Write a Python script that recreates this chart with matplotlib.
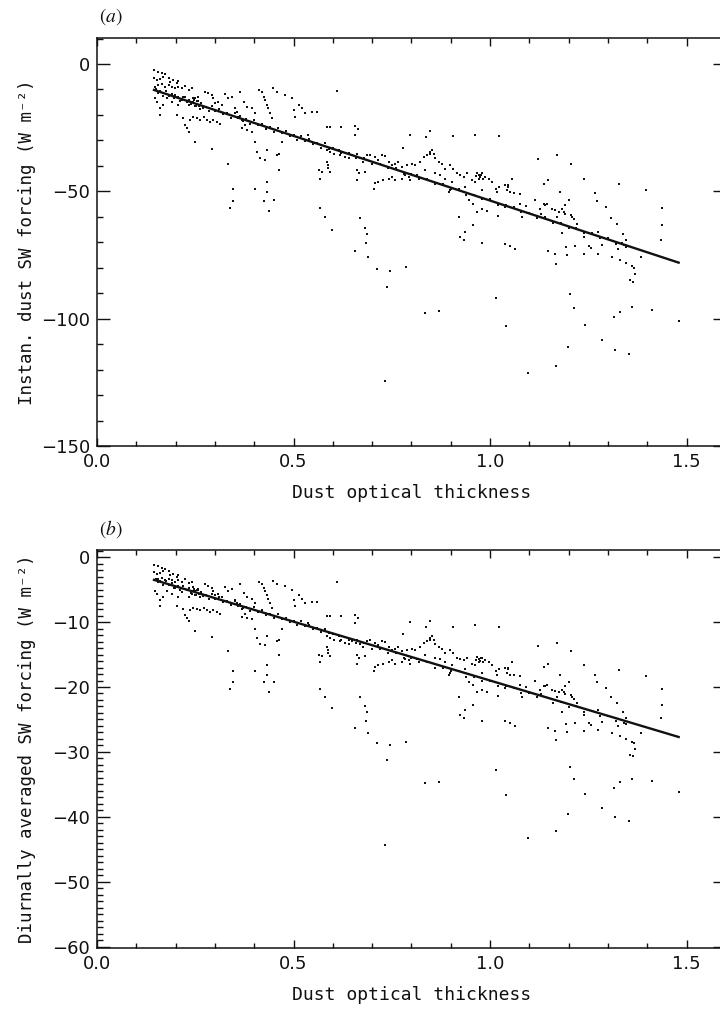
import numpy as np
import matplotlib.pyplot as plt
from matplotlib.ticker import MultipleLocator

plt.rcParams['font.family'] = 'DejaVu Sans'
plt.rcParams['mathtext.fontset'] = 'stix'

# dust optical thickness / instantaneous forcing / diurnally averaged forcing
# grouped by region of the scatter

# upper edge of the cloud, tau 0.15-0.25
tau_top = [0.146, 0.156, 0.165, 0.173, 0.146, 0.152, 0.160, 0.169, 0.182, 0.186,
           0.194, 0.203, 0.207, 0.148, 0.156, 0.165, 0.173, 0.182, 0.190, 0.199,
           0.207, 0.216, 0.224, 0.233, 0.241]
inst_top = [-2.4, -3.0, -3.7, -4.1, -5.6, -6.3, -5.9, -5.0, -5.4, -6.9,
            -6.3, -7.6, -6.7, -8.9, -8.3, -8.0, -8.9, -8.3, -8.9, -9.6,
            -8.9, -9.6, -8.5, -10.2, -9.6]
diur_top = [-1.2, -1.4, -1.6, -1.8, -2.3, -2.6, -2.4, -2.1, -2.2, -2.8,
            -2.6, -3.0, -2.7, -3.5, -3.3, -3.2, -3.5, -3.3, -3.5, -3.8,
            -3.5, -3.8, -3.4, -4.0, -3.8]

# below the line, tau 0.15-0.31
tau_low = [0.148, 0.152, 0.160, 0.169, 0.177, 0.190, 0.199, 0.207, 0.216, 0.224,
           0.233, 0.241, 0.250, 0.258, 0.160, 0.203, 0.220, 0.224, 0.228, 0.233,
           0.250, 0.237, 0.245, 0.254, 0.262, 0.271, 0.279, 0.288, 0.296, 0.305,
           0.313]
inst_low = [-13.5, -14.8, -17.4, -16.1, -13.5, -14.8, -12.2, -16.1, -14.2, -12.9,
            -16.1, -14.8, -13.5, -12.9, -20.1, -20.1, -21.4, -24.0, -25.3, -26.6,
            -30.6, -22.0, -20.7, -21.4, -22.0, -20.7, -22.0, -22.7, -22.0, -22.7,
            -23.4]
diur_low = [-5.2, -5.6, -6.6, -6.1, -5.2, -5.6, -4.7, -6.1, -5.4, -4.9,
            -6.1, -5.6, -5.2, -4.9, -7.5, -7.5, -8.0, -8.9, -9.4, -9.9,
            -11.3, -8.2, -7.8, -8.0, -8.2, -7.8, -8.2, -8.5, -8.2, -8.5,
            -8.7]

# tau 0.24-0.37, above line + small cluster
tau_mid = [0.275, 0.283, 0.292, 0.296, 0.300, 0.309, 0.317, 0.326, 0.334, 0.343,
           0.351, 0.356, 0.364, 0.292, 0.334, 0.248, 0.252, 0.258, 0.262, 0.244]
inst_mid = [-10.9, -11.5, -12.2, -13.5, -15.5, -14.8, -16.1, -11.9, -13.5, -12.9,
            -17.4, -18.8, -10.9, -33.2, -39.1, -14.0, -16.5, -14.5, -17.8, -13.2]
diur_mid = [-4.2, -4.4, -4.7, -5.2, -5.9, -5.6, -6.1, -4.6, -5.2, -4.9,
            -6.6, -7.1, -4.2, -12.3, -14.4, -4.9, -5.8, -5.1, -6.2, -4.6]

# dense band along the fit, tau 0.15-0.59
tau_band1 = [0.150, 0.155, 0.160, 0.168, 0.175, 0.182, 0.190, 0.197, 0.205, 0.212,
             0.220, 0.228, 0.235, 0.240, 0.245, 0.250, 0.255, 0.260, 0.265, 0.270,
             0.278, 0.285, 0.292, 0.300, 0.310, 0.320, 0.330, 0.340, 0.350, 0.358,
             0.365, 0.372, 0.380, 0.390, 0.400, 0.410, 0.420, 0.430, 0.440, 0.450,
             0.460, 0.470, 0.480, 0.490, 0.500, 0.510, 0.520, 0.530, 0.540, 0.550,
             0.560, 0.570, 0.580, 0.590]
inst_band1 = [-9.7, -11.4, -10.7, -12.4, -10.5, -12.5, -11.7, -13.5, -13.0, -14.6,
              -12.8, -14.8, -14.0, -15.7, -15.0, -16.5, -14.6, -16.4, -15.5, -17.3,
              -16.7, -18.3, -16.5, -18.5, -17.8, -19.8, -19.3, -21.1, -19.4, -21.4,
              -20.6, -22.4, -21.8, -23.7, -22.0, -24.1, -23.4, -25.4, -24.9, -26.7,
              -25.0, -27.1, -26.4, -28.4, -27.9, -29.7, -28.1, -30.2, -29.5, -31.5,
              -31.0, -32.8, -31.1, -33.2]
diur_band1 = [-3.3, -3.9, -3.7, -4.3, -3.6, -4.3, -4.0, -4.7, -4.5, -5.1,
              -4.4, -5.1, -4.8, -5.5, -5.2, -5.8, -5.1, -5.7, -5.4, -6.0,
              -5.8, -6.4, -5.7, -6.5, -6.2, -6.9, -6.7, -7.4, -6.8, -7.5,
              -7.2, -7.9, -7.7, -8.3, -7.7, -8.4, -8.2, -8.9, -8.7, -9.4,
              -8.8, -9.5, -9.3, -10.0, -9.8, -10.5, -9.9, -10.6, -10.4, -11.1,
              -10.9, -11.6, -11.0, -11.7]

# tau 0.34-0.60 scatter (streaks and outliers)
tau_b = [0.373, 0.381, 0.394, 0.402, 0.360, 0.368, 0.377, 0.368, 0.381, 0.394,
         0.411, 0.419, 0.424, 0.428, 0.432, 0.436, 0.441, 0.445, 0.449, 0.458,
         0.402, 0.407, 0.415, 0.428, 0.432, 0.458, 0.462, 0.462, 0.470, 0.479,
         0.496, 0.500, 0.504, 0.513, 0.521, 0.530, 0.547, 0.559, 0.538, 0.585,
         0.347, 0.402, 0.432, 0.432, 0.564, 0.572, 0.585, 0.589, 0.568, 0.347,
         0.339, 0.424, 0.451, 0.438, 0.568, 0.579, 0.598]
inst_b = [-14.8, -16.8, -17.4, -19.4, -20.7, -22.0, -24.0, -25.3, -26.0, -26.6,
          -10.2, -10.9, -12.9, -14.2, -16.1, -17.4, -19.4, -21.4, -9.6, -10.9,
          -30.6, -34.5, -37.1, -37.8, -33.9, -35.8, -35.2, -41.7, -30.6, -12.2,
          -13.5, -18.1, -20.7, -16.1, -17.4, -19.4, -18.8, -18.8, -27.9, -24.7,
          -48.9, -48.9, -46.3, -50.3, -41.7, -42.4, -38.4, -41.0, -45.0, -53.8,
          -56.6, -53.8, -53.5, -57.9, -56.6, -60.1, -65.0]
diur_b = [-5.5, -6.2, -6.4, -7.1, -7.5, -8.0, -8.7, -9.2, -9.4, -9.6,
          -3.8, -4.1, -4.8, -5.2, -5.9, -6.4, -7.1, -7.8, -3.6, -4.1,
          -11.1, -12.4, -13.4, -13.6, -12.2, -12.9, -12.7, -15.0, -11.1, -4.5,
          -5.0, -6.6, -7.5, -5.9, -6.4, -7.1, -6.9, -6.9, -10.1, -9.0,
          -17.6, -17.6, -16.6, -18.1, -15.0, -15.3, -13.8, -14.8, -16.2, -19.3,
          -20.3, -19.3, -19.2, -20.8, -20.3, -21.5, -23.3]

# sparse points well above the line, tau 0.59-1.03
tau_high = [0.610, 0.593, 0.621, 0.657, 0.664, 0.657, 0.797, 0.838, 0.848, 0.906,
            0.963, 1.024, 0.778]
inst_high = [-10.5, -24.7, -24.7, -24.4, -25.6, -27.9, -27.7, -28.6, -26.2, -28.2,
             -27.9, -28.2, -32.9]
diur_high = [-3.9, -9.0, -9.0, -8.9, -9.3, -10.1, -10.0, -10.8, -9.9, -10.7,
             -10.5, -10.7, -11.9]

# band riding above the line, tau 0.58-1.04, with the blob near 0.97
tau_upper = [0.585, 0.593, 0.602, 0.615, 0.619, 0.632, 0.640, 0.649, 0.661, 0.670,
             0.678, 0.687, 0.695, 0.708, 0.716, 0.725, 0.733, 0.742, 0.750, 0.759,
             0.767, 0.776, 0.789, 0.801, 0.810, 0.823, 0.831, 0.840, 0.848, 0.857,
             0.861, 0.869, 0.878, 0.886, 0.899, 0.907, 0.916, 0.924, 0.933, 0.941,
             0.954, 0.963, 0.971, 0.980, 0.988, 0.997, 1.005, 1.014, 1.022, 1.039,
             0.968, 0.975, 0.972, 0.978, 0.965, 0.982, 0.848, 0.852]
inst_upper = [-33.9, -34.5, -35.2, -33.6, -35.8, -36.5, -37.1, -35.8, -35.4, -37.1,
              -38.4, -35.8, -35.6, -36.5, -37.8, -35.8, -36.1, -38.4, -39.8, -39.1,
              -38.4, -40.4, -39.8, -39.1, -39.8, -38.4, -36.5, -35.8, -35.4, -35.2,
              -37.1, -38.4, -39.1, -41.1, -39.8, -41.1, -43.0, -43.7, -44.3, -43.0,
              -45.7, -46.3, -43.7, -43.0, -44.3, -45.0, -46.3, -48.9, -48.3, -47.6,
              -42.8, -44.5, -45.2, -43.5, -44.0, -45.0, -34.5, -33.8]
diur_upper = [-12.2, -12.4, -12.7, -12.1, -12.9, -13.2, -13.4, -12.9, -12.8, -13.4,
              -13.8, -12.9, -12.8, -13.2, -13.6, -12.9, -13.0, -13.8, -14.3, -14.1,
              -13.8, -14.5, -14.3, -14.1, -14.3, -13.8, -13.2, -12.9, -12.8, -12.7,
              -13.4, -13.8, -14.1, -14.8, -14.3, -14.8, -15.5, -15.7, -15.9, -15.5,
              -16.4, -16.6, -15.7, -15.5, -15.9, -16.2, -16.6, -17.6, -17.3, -17.1,
              -15.4, -16.0, -16.2, -15.6, -15.8, -16.2, -12.4, -12.2]

# arc below the line, tau 0.59-1.05
tau_under = [0.589, 0.593, 0.661, 0.666, 0.661, 0.683, 0.708, 0.716, 0.729, 0.742,
             0.750, 0.759, 0.776, 0.784, 0.793, 0.797, 0.704, 0.814, 0.835, 0.861,
             0.873, 0.886, 0.903, 0.899, 0.937, 0.980, 1.018, 1.047]
inst_under = [-39.8, -42.4, -41.7, -43.0, -45.7, -42.4, -46.9, -46.3, -45.7, -45.0,
              -44.3, -45.7, -45.0, -43.7, -44.3, -45.7, -48.9, -43.7, -41.7, -43.0,
              -43.7, -45.0, -46.3, -49.6, -48.3, -49.6, -50.3, -48.3]
diur_under = [-14.3, -15.2, -15.0, -15.5, -16.4, -15.2, -16.9, -16.6, -16.4, -16.2,
              -15.9, -16.4, -16.2, -15.7, -15.9, -16.4, -17.6, -15.7, -15.0, -15.5,
              -15.7, -16.2, -16.6, -17.8, -17.3, -17.8, -18.1, -17.3]

# along the line, tau 0.60-1.04
tau_band2 = [0.600, 0.620, 0.640, 0.660, 0.680, 0.700, 0.720, 0.740, 0.760, 0.780,
             0.800, 0.820, 0.840, 0.860, 0.880, 0.900, 0.920, 0.940, 0.960, 0.980,
             1.000, 1.020, 1.040]
inst_band2 = [-32.8, -35.1, -35.1, -36.8, -36.9, -39.2, -39.2, -40.9, -40.9, -43.3,
              -43.3, -45.0, -45.0, -47.3, -47.3, -49.1, -49.1, -51.4, -51.4, -53.1,
              -53.1, -55.4, -55.2]
diur_band2 = [-11.8, -12.7, -12.7, -13.3, -13.3, -14.1, -14.1, -14.7, -14.7, -15.6,
              -15.6, -16.2, -16.2, -17.0, -17.0, -17.6, -17.6, -18.4, -18.4, -19.1,
              -19.1, -19.9, -19.8]

# upper scatter, tau 1.04-1.40
tau_right_hi = [1.121, 1.171, 1.207, 1.056, 1.046, 1.137, 1.148, 1.239, 1.328, 1.396,
                1.043, 1.052, 1.060, 1.077, 1.177, 1.268]
inst_right_hi = [-37.4, -35.8, -39.1, -45.0, -47.6, -47.0, -45.7, -45.0, -47.1, -49.6,
                 -49.6, -50.3, -50.5, -50.9, -50.3, -50.6]
diur_right_hi = [-13.7, -13.2, -14.4, -16.2, -17.1, -16.9, -16.4, -16.6, -17.4, -18.3,
                 -17.8, -18.1, -18.1, -18.3, -18.1, -18.2]

# right part of the cloud and its outliers, tau 1.04-1.48
tau_right = [1.039, 1.077, 1.092, 1.081, 1.115, 1.128, 1.131, 1.137, 1.141, 1.145,
             1.158, 1.166, 1.171, 1.175, 1.183, 1.188, 1.192, 1.200, 1.190, 1.205,
             1.213, 1.221, 1.209, 1.182, 1.148, 1.166, 1.168, 1.196, 1.194, 1.216,
             1.239, 1.239, 1.251, 1.256, 1.275, 1.275, 1.285, 1.271, 1.294, 1.309,
             1.323, 1.338, 1.346, 1.326, 1.340, 1.311, 1.332, 1.346, 1.362, 1.366,
             1.368, 1.357, 1.364, 1.383, 1.438, 1.438, 1.436, 1.203, 1.213, 1.241,
             1.362, 1.330, 1.315, 1.413, 1.482, 1.284, 1.198, 1.319, 1.353, 1.168,
             1.097, 1.063, 1.052]
inst_right = [-56.2, -54.8, -55.8, -60.1, -53.3, -56.8, -58.8, -55.1, -55.5, -54.8,
              -56.8, -57.5, -60.1, -58.1, -56.8, -58.1, -58.8, -53.5, -55.5, -59.4,
              -60.8, -62.7, -60.1, -66.4, -73.5, -74.8, -78.7, -75.2, -71.9, -71.6,
              -68.0, -74.8, -71.3, -72.2, -66.0, -74.5, -70.9, -53.9, -56.2, -60.4,
              -62.7, -66.7, -69.3, -72.6, -71.2, -75.8, -76.9, -78.2, -79.5, -80.0,
              -82.4, -85.0, -85.7, -75.8, -56.6, -63.4, -69.3, -90.3, -95.8, -102.3,
              -95.5, -97.2, -99.5, -96.6, -101.0, -108.2, -111.1, -112.2, -113.9, -118.4,
              -121.5, -72.6, -71.3]
diur_right = [-20.2, -19.7, -20.0, -21.5, -19.1, -20.4, -21.1, -19.8, -19.9, -19.7,
              -20.4, -20.6, -21.5, -20.8, -20.4, -20.8, -21.1, -19.2, -19.9, -21.3,
              -21.8, -22.5, -21.5, -23.8, -26.3, -26.8, -28.1, -26.9, -25.7, -25.6,
              -24.3, -26.8, -25.5, -25.8, -23.6, -26.6, -25.4, -19.3, -20.2, -21.6,
              -22.5, -23.9, -24.8, -26.0, -25.5, -27.1, -27.5, -28.0, -28.4, -28.6,
              -29.5, -30.4, -30.6, -27.1, -20.3, -22.7, -24.8, -32.3, -34.2, -36.5,
              -34.1, -34.7, -35.5, -34.5, -36.1, -38.6, -39.6, -40.0, -40.6, -42.2,
              -43.3, -26.0, -25.5]

# outliers below the line, tau 0.65-1.04
tau_out = [0.896, 0.946, 0.958, 0.967, 0.980, 0.992, 0.922, 0.957, 0.937, 0.924,
           0.935, 0.980, 1.020, 1.039, 1.014, 1.040, 0.668, 0.683, 0.687, 0.684,
           0.657, 0.689, 0.712, 0.745, 0.787, 0.739, 0.835, 0.871, 0.733]
inst_out = [-50.3, -53.5, -54.8, -58.1, -57.1, -57.7, -60.1, -63.4, -66.0, -68.0,
            -69.0, -70.3, -59.7, -70.6, -91.9, -102.7, -60.4, -64.3, -66.7, -70.3,
            -73.5, -75.8, -80.4, -81.2, -79.6, -87.4, -97.6, -96.8, -124.4]
diur_out = [-18.1, -19.2, -19.7, -20.8, -20.5, -20.7, -21.5, -22.7, -23.6, -24.3,
            -24.7, -25.2, -21.4, -25.3, -32.8, -36.7, -21.6, -23.0, -23.9, -25.2,
            -26.3, -27.1, -28.7, -29.0, -28.5, -31.2, -34.8, -34.6, -44.4]

# along the line, tau 1.06-1.35
tau_band3 = [1.060, 1.080, 1.100, 1.120, 1.140, 1.160, 1.180, 1.200, 1.220, 1.240,
             1.260, 1.280, 1.300, 1.320, 1.335, 1.345]
inst_band3 = [-56.2, -58.3, -58.5, -60.3, -60.2, -62.4, -62.3, -64.4, -64.3, -66.4,
              -66.3, -68.5, -68.4, -70.5, -70.2, -71.8]
diur_band3 = [-20.2, -20.9, -21.0, -21.6, -21.6, -22.4, -22.3, -23.1, -23.0, -23.8,
              -23.7, -24.5, -24.5, -25.2, -25.1, -25.7]

# regression lines (end points)
fit_tau = [0.145, 1.48]
fit_inst = [-10.2, -78.0]
fit_diur = [-3.5, -27.7]

tau = np.concatenate([tau_top, tau_low, tau_mid, tau_band1, tau_b, tau_high, tau_upper,
                      tau_under, tau_band2, tau_right_hi, tau_right, tau_out, tau_band3])
sw_inst = np.concatenate([inst_top, inst_low, inst_mid, inst_band1, inst_b, inst_high,
                          inst_upper, inst_under, inst_band2, inst_right_hi, inst_right,
                          inst_out, inst_band3])
sw_diur = np.concatenate([diur_top, diur_low, diur_mid, diur_band1, diur_b, diur_high,
                          diur_upper, diur_under, diur_band2, diur_right_hi, diur_right,
                          diur_out, diur_band3])

W, H = 720, 1016
fig = plt.figure(figsize=(W / 100, H / 100), dpi=100)
x0 = 97
xw = 1.6 * 393  # axis runs past the right edge of the page, as in the original

panels = [
    dict(box=(38, 446), y=sw_inst, fit=fit_inst, ylim=(-150, 10.2), major=50, minor=10,
         ylabel='Instan. dust SW forcing (W m\u207b\u00b2)', tag=r'$(\mathit{a})$', tag_y=17),
    dict(box=(550, 948), y=sw_diur, fit=fit_diur, ylim=(-60.2, 1.1), major=10, minor=1,
         ylabel='Diurnally averaged SW forcing (W m\u207b\u00b2)', tag=r'$(\mathit{b})$', tag_y=529),
]

ink = '#111111'
label_font = ['DejaVu Sans Mono']
for p in panels:
    top, bot = p['box']
    ax = fig.add_axes([x0 / W, 1 - bot / H, xw / W, (bot - top) / H])
    ax.scatter(tau, p['y'], s=4.2, marker='s', c=ink, linewidths=0)
    ax.plot(fit_tau, p['fit'], color=ink, lw=1.7)
    ax.set_xlim(0, 1.6)
    ax.set_ylim(*p['ylim'])
    ax.xaxis.set_major_locator(MultipleLocator(0.5))
    ax.xaxis.set_minor_locator(MultipleLocator(0.1))
    ax.yaxis.set_major_locator(MultipleLocator(p['major']))
    ax.yaxis.set_minor_locator(MultipleLocator(p['minor']))
    ax.tick_params(which='both', direction='in', top=True, right=True,
                   labelsize=13, width=1.0, colors=ink)
    ax.tick_params(axis='x', which='major', length=6, pad=5)
    ax.tick_params(axis='x', which='minor', length=3.5)
    ax.tick_params(axis='y', which='major', length=9.5, pad=5)
    ax.tick_params(axis='y', which='minor', length=4.5)
    for s in ax.spines.values():
        s.set_linewidth(1.1)
        s.set_color(ink)
    ax.set_xlabel('Dust optical thickness', fontsize=13, color=ink, family=label_font)
    ax.xaxis.set_label_coords(0.5, -38 / (bot - top))
    ax.set_ylabel(p['ylabel'], fontsize=12.6, color=ink, family=label_font)
    ax.yaxis.set_label_coords((36 - x0) / xw, 0.5)
    fig.text(99 / W, 1 - p['tag_y'] / H, p['tag'], fontsize=14, va='center', ha='left', color=ink)

fig.savefig('out.png', dpi=100)
